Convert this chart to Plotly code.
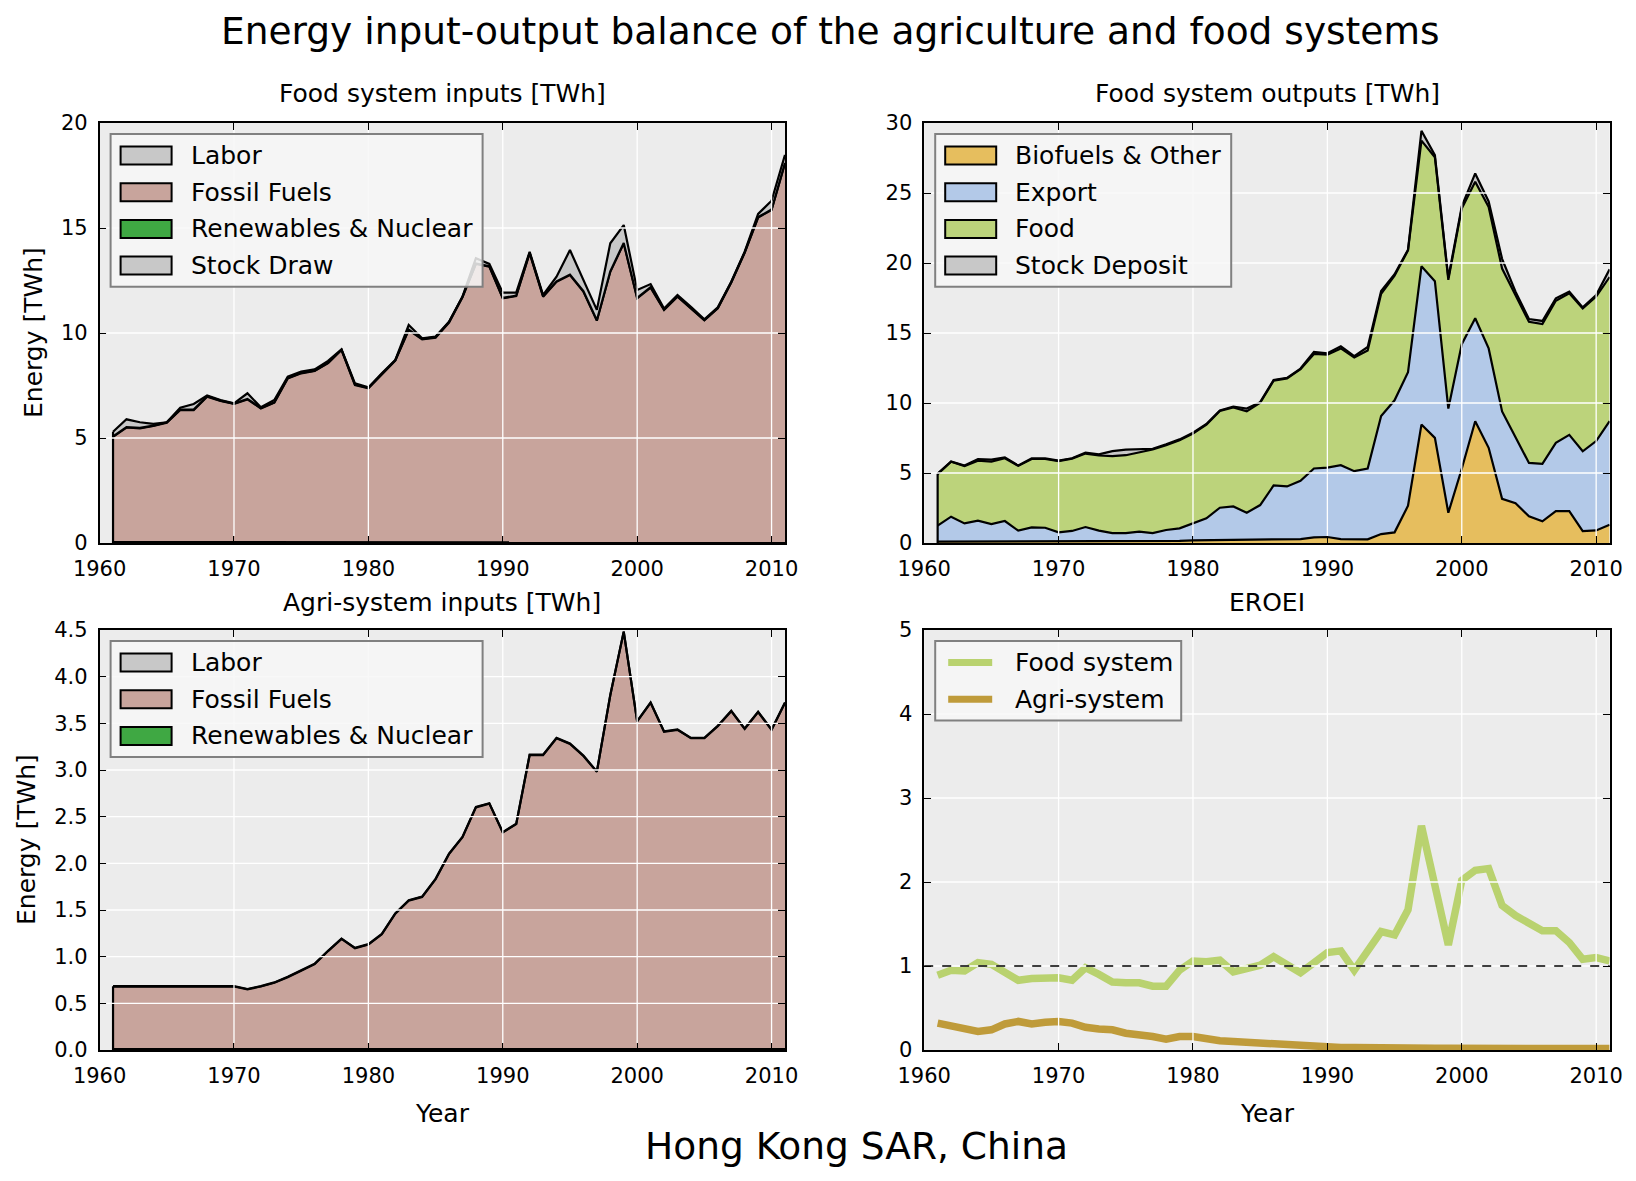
import plotly.graph_objects as go
from plotly.subplots import make_subplots

years = list(range(1961, 2012))

# Food system inputs [TWh]
fs_labor = [0.04] * 20 + [0.03] * 31
fs_fossil = [5.02, 5.46, 5.42, 5.53, 5.69, 6.29, 6.29, 6.93, 6.72, 6.58,
             6.80, 6.37, 6.64, 7.80, 8.04, 8.15, 8.52, 9.15, 7.48, 7.33,
             8.00, 8.65, 10.11, 9.67, 9.75, 10.47, 11.67, 13.26, 13.13, 11.62,
             11.73, 13.77, 11.70, 12.41, 12.73, 11.94, 10.56, 12.89, 14.24, 11.62,
             12.13, 11.07, 11.70, 11.15, 10.57, 11.14, 12.37, 13.79, 15.47, 15.83,
             18.05]
fs_renew = [0.02] * 51
fs_stock_draw = [0.22, 0.37, 0.27, 0.08, 0.00, 0.09, 0.27, 0.03, 0.03, 0.01,
                 0.27, 0.03, 0.11, 0.06, 0.06, 0.06, 0.09, 0.01, 0.06, 0.02,
                 0.03, 0.01, 0.22, 0.03, 0.03, 0.02, 0.01, 0.25, 0.11, 0.25,
                 0.14, 0.05, 0.06, 0.22, 1.17, 0.53, 0.49, 1.33, 0.85, 0.38,
                 0.15, 0.05, 0.06, 0.05, 0.03, 0.03, 0.02, 0.03, 0.15, 0.42,
                 0.38]

# Food system outputs [TWh]
out_bio = [0.10, 0.10, 0.10, 0.10, 0.10, 0.10, 0.10, 0.10, 0.10, 0.10,
           0.10, 0.10, 0.12, 0.12, 0.12, 0.12, 0.12, 0.15, 0.15, 0.19,
           0.20, 0.20, 0.20, 0.20, 0.20, 0.22, 0.25, 0.28, 0.40, 0.43,
           0.28, 0.26, 0.26, 0.64, 0.76, 2.66, 8.46, 7.51, 2.16, 5.30,
           8.70, 6.80, 3.15, 2.85, 1.90, 1.55, 2.27, 2.27, 0.85, 0.90,
           1.30]
out_export = [1.14, 1.78, 1.30, 1.49, 1.25, 1.47, 0.78, 1.02, 0.99, 0.66,
              0.76, 1.04, 0.76, 0.59, 0.59, 0.69, 0.59, 0.78, 0.90, 1.21,
              1.56, 2.32, 2.41, 1.96, 2.51, 3.89, 3.79, 4.16, 4.92, 4.96,
              5.28, 4.87, 5.06, 8.43, 9.43, 9.54, 11.30, 11.19, 7.44, 8.90,
              7.35, 7.10, 6.25, 4.70, 3.82, 4.11, 4.88, 5.45, 5.70, 6.38,
              7.40]
out_food = [3.68, 3.92, 4.09, 4.29, 4.47, 4.48, 4.63, 4.88, 4.91, 5.09,
            5.17, 5.25, 5.37, 5.49, 5.56, 5.69, 5.97, 6.05, 6.29, 6.41,
            6.70, 6.91, 7.07, 7.24, 7.31, 7.49, 7.72, 7.98, 8.18, 8.06,
            8.34, 8.12, 8.43, 8.73, 8.91, 8.70, 8.98, 8.85, 9.20, 9.70,
            9.75, 10.10, 10.20, 10.15, 10.08, 9.98, 10.15, 10.11, 10.21, 10.32,
            10.30]
out_stock_dep = [0.04, 0.03, 0.04, 0.12, 0.13, 0.07, 0.02, 0.05, 0.05, 0.03,
                 0.02, 0.06, 0.08, 0.36, 0.40, 0.20, 0.05, 0.07, 0.06, 0.07,
                 0.04, 0.04, 0.07, 0.20, 0.04, 0.04, 0.04, 0.04, 0.15, 0.10,
                 0.15, 0.10, 0.25, 0.20, 0.10, 0.05, 0.70, 0.15, 0.14, 0.15,
                 0.60, 0.40, 0.70, 0.25, 0.20, 0.22, 0.18, 0.12, 0.07, 0.11,
                 0.55]

# Agri-system inputs [TWh]
ag_labor = [0.01] * 51
ag_fossil = [0.67, 0.67, 0.67, 0.67, 0.67, 0.67, 0.67, 0.67, 0.67, 0.67,
             0.64, 0.67, 0.71, 0.77, 0.84, 0.91, 1.05, 1.18, 1.08, 1.12,
             1.23, 1.45, 1.59, 1.63, 1.82, 2.09, 2.27, 2.59, 2.63, 2.32,
             2.41, 3.15, 3.15, 3.33, 3.27, 3.14, 2.97, 3.79, 4.47, 3.51,
             3.71, 3.40, 3.42, 3.33, 3.33, 3.46, 3.62, 3.43, 3.61, 3.42,
             3.71]
ag_renew = [0.004] * 51

# EROEI
eroei_food = [0.89, 0.95, 0.94, 1.04, 1.02, 0.93, 0.83, 0.85, 0.86, 0.86,
              0.83, 0.98, 0.90, 0.81, 0.80, 0.80, 0.76, 0.76, 0.95, 1.06,
              1.05, 1.07, 0.93, 0.97, 1.01, 1.11, 1.01, 0.92, 1.04, 1.16,
              1.18, 0.95, 1.18, 1.41, 1.37, 1.67, 2.67, 1.96, 1.25, 2.02,
              2.14, 2.16, 1.72, 1.60, 1.50, 1.42, 1.42, 1.28, 1.08, 1.10,
              1.06]
eroei_agri = [0.32, 0.29, 0.25, 0.22, 0.24, 0.31, 0.34, 0.31, 0.33, 0.34,
              0.32, 0.27, 0.25, 0.24, 0.20, 0.19, 0.16, 0.13, 0.16, 0.16,
              0.13, 0.11, 0.10, 0.09, 0.07, 0.06, 0.05, 0.04, 0.035, 0.035,
              0.03, 0.03, 0.025, 0.025, 0.025, 0.025, 0.025, 0.022, 0.02, 0.022,
              0.022, 0.022, 0.02, 0.02, 0.02, 0.02, 0.018, 0.018, 0.018, 0.018,
              0.018]

x_ticks = [1960, 1970, 1980, 1990, 2000, 2010]
y_ticks_fs_in = [0, 5, 10, 15, 20]
y_ticks_fs_out = [0, 5, 10, 15, 20, 25, 30]
y_ticks_ag_in = [0, 0.5, 1.0, 1.5, 2.0, 2.5, 3.0, 3.5, 4.0, 4.5]
y_ticks_eroei = [0, 1, 2, 3, 4, 5]

GRAY = '#c8c8c8'
FOSSIL = '#c8a49c'
RENEW = '#3fa843'
BIO = '#e6be5e'
EXPORT = '#b3c9e8'
FOOD = '#bcd37b'
EROEI_FOOD = '#b9d26f'
EROEI_AGRI = '#bf9b3a'
FONT = 'DejaVu Sans'

# the page body adds an 8px margin, so the figure is made that much smaller
# and all window pixel positions below are shifted by it
W, H = 1636, 1181
PAD = 8
FW, FH = W - PAD, H - PAD

# axis boxes in window pixels: left, right, top, bottom
boxes = {
    1: (99.6, 785.0, 123.0, 543.0),
    2: (924.2, 1609.6, 123.0, 543.0),
    3: (99.6, 785.0, 630.0, 1050.0),
    4: (924.2, 1609.6, 630.0, 1050.0),
}


def px(x):
    return (x - PAD) / FW


def py(y):
    return 1 - (y - PAD) / FH


fig = make_subplots(rows=2, cols=2)


def add_stack(row, col, group, layers):
    for name, vals, color in layers:
        fig.add_trace(go.Scatter(x=years, y=vals, name=name, stackgroup=group,
                                 mode='lines', fillcolor=color,
                                 line=dict(color='black', width=2.2),
                                 showlegend=False),
                      row=row, col=col)
    # closing edge of the stack at the first year
    total0 = sum(v[0] for _, v, _ in layers)
    fig.add_trace(go.Scatter(x=[years[0], years[0]], y=[0, total0], mode='lines',
                             line=dict(color='black', width=2.2), showlegend=False,
                             hoverinfo='skip'),
                  row=row, col=col)


add_stack(1, 1, 'fs_in', [('Labor', fs_labor, GRAY),
                          ('Fossil Fuels', fs_fossil, FOSSIL),
                          ('Renewables & Nuclear', fs_renew, RENEW),
                          ('Stock Draw', fs_stock_draw, GRAY)])
add_stack(1, 2, 'fs_out', [('Biofuels & Other', out_bio, BIO),
                           ('Export', out_export, EXPORT),
                           ('Food', out_food, FOOD),
                           ('Stock Deposit', out_stock_dep, GRAY)])
add_stack(2, 1, 'ag_in', [('Labor', ag_labor, GRAY),
                          ('Fossil Fuels', ag_fossil, FOSSIL),
                          ('Renewables & Nuclear', ag_renew, RENEW)])

fig.add_trace(go.Scatter(x=years, y=eroei_food, name='Food system', mode='lines',
                         line=dict(color=EROEI_FOOD, width=7.5), showlegend=False),
              row=2, col=2)
fig.add_trace(go.Scatter(x=years, y=eroei_agri, name='Agri-system', mode='lines',
                         line=dict(color=EROEI_AGRI, width=7.5), showlegend=False),
              row=2, col=2)

axis_style = dict(showline=True, linecolor='black', linewidth=1.5, mirror='ticks',
                  ticks='inside', ticklen=7, tickwidth=1.2, tickcolor='black',
                  showgrid=False, zeroline=False, ticklabelstandoff=6,
                  automargin=False,
                  tickfont=dict(family=FONT, size=21, color='black'))

y_setup = {1: ([0, 20], y_ticks_fs_in, None), 2: ([0, 30], y_ticks_fs_out, None),
           3: ([0, 4.5], y_ticks_ag_in, '.1f'), 4: ([0, 5], y_ticks_eroei, None)}

for n, (l, r, t, b) in boxes.items():
    sfx = '' if n == 1 else str(n)
    yr, yt, fmt = y_setup[n]
    fig.layout['xaxis' + sfx].update(domain=[px(l), px(r)], range=[1960, 2011],
                                     tickvals=x_ticks, **axis_style)
    fig.layout['yaxis' + sfx].update(domain=[py(b), py(t)], range=yr, tickvals=yt,
                                     tickformat=fmt, **axis_style)
    # white grid drawn over the filled areas, stopping short of the tick marks
    gx = (7 / (r - l), 1 - 7 / (r - l))
    gy = (7 / (b - t), 1 - 7 / (b - t))
    for xv in x_ticks[1:]:
        fig.add_shape(type='line', xref='x' + sfx, yref='y' + sfx + ' domain',
                      x0=xv, x1=xv, y0=gy[0], y1=gy[1],
                      line=dict(color='white', width=1.3), layer='above')
    for yv in yt[1:-1]:
        fig.add_shape(type='line', xref='x' + sfx + ' domain', yref='y' + sfx,
                      x0=gx[0], x1=gx[1], y0=yv, y1=yv,
                      line=dict(color='white', width=1.3), layer='above')

# break-even line on the EROEI panel
fig.add_shape(type='line', xref='x4 domain', yref='y4', x0=0, x1=1, y0=1, y1=1,
              line=dict(color='black', width=1.3, dash='dash'), layer='above')


def add_legend(n, width, labels, colors, lines=False):
    l, r, t, b = boxes[n]
    rows = len(labels)
    top = t + 11
    bottom = top + 42.7 + 36.7 * (rows - 1)
    fig.add_shape(type='rect', xref='paper', yref='paper',
                  x0=px(l + 11), x1=px(l + 11 + width), y0=py(bottom), y1=py(top),
                  fillcolor='rgba(247,247,247,0.85)',
                  line=dict(color='#808080', width=2), layer='above')
    for i, (lab, col) in enumerate(zip(labels, colors)):
        cy = t + 32.5 + 36.7 * i
        if lines:
            fig.add_shape(type='line', xref='paper', yref='paper',
                          x0=px(l + 24), x1=px(l + 68), y0=py(cy), y1=py(cy),
                          line=dict(color=col, width=7), layer='above')
        else:
            fig.add_shape(type='rect', xref='paper', yref='paper',
                          x0=px(l + 21), x1=px(l + 72), y0=py(cy + 9), y1=py(cy - 9),
                          fillcolor=col, line=dict(color='black', width=2),
                          layer='above')
        fig.add_annotation(text=lab, xref='paper', yref='paper', x=px(l + 89),
                           y=py(cy), xanchor='left', yanchor='middle',
                           showarrow=False, font=dict(family=FONT, size=25))


add_legend(1, 372, ['Labor', 'Fossil Fuels', 'Renewables & Nuclear', 'Stock Draw'],
           [GRAY, FOSSIL, RENEW, GRAY])
add_legend(2, 296, ['Biofuels & Other', 'Export', 'Food', 'Stock Deposit'],
           [BIO, EXPORT, FOOD, GRAY])
add_legend(3, 372, ['Labor', 'Fossil Fuels', 'Renewables & Nuclear'],
           [GRAY, FOSSIL, RENEW])
add_legend(4, 246, ['Food system', 'Agri-system'], [EROEI_FOOD, EROEI_AGRI],
           lines=True)


def label(text, x, y, size, angle=0):
    fig.add_annotation(text=text, xref='paper', yref='paper', x=px(x), y=py(y),
                       xanchor='center', yanchor='middle', showarrow=False,
                       textangle=angle, font=dict(family=FONT, size=size, color='black'))


label('Energy input-output balance of the agriculture and food systems', 830, 31, 37.5)
label('Food system inputs [TWh]', 442, 94, 25)
label('Food system outputs [TWh]', 1267, 94, 25)
label('Agri-system inputs [TWh]', 442, 602, 25)
label('EROEI', 1267, 602, 25)
label('Year', 442, 1113, 25)
label('Year', 1267, 1113, 25)
label('Energy [TWh]', 33, 333, 25, -90)
label('Energy [TWh]', 26, 840, 25, -90)
label('Hong Kong SAR, China', 856, 1146, 37.5)

fig.update_layout(width=FW, height=FH, autosize=False,
                  margin=dict(l=0, r=0, t=0, b=0, autoexpand=False),
                  paper_bgcolor='white', plot_bgcolor='#ececec',
                  font=dict(family=FONT, color='black'),
                  showlegend=False)

fig.write_html("out.html")
